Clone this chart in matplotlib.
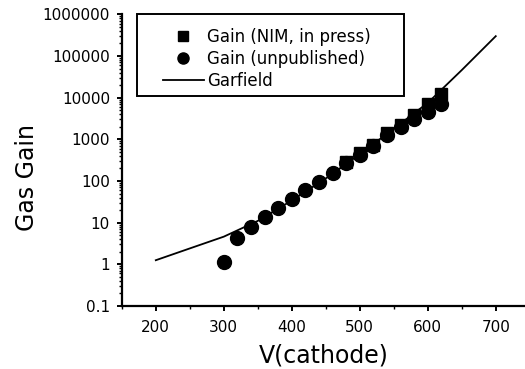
import numpy as np
import matplotlib
matplotlib.use('Agg')
import matplotlib.pyplot as plt
from matplotlib.patches import Rectangle
from matplotlib.ticker import LogLocator, FixedLocator, NullFormatter

# gas gain vs cathode voltage
v_nim    = [480, 500, 520, 540, 560, 580, 600, 620]
gain_nim = [290, 460, 740, 1400, 2200, 3900, 7200, 12500]

v_unpub    = [300, 320, 340, 360, 380, 400, 420, 440, 460, 480, 500, 520, 540, 560, 580, 600, 620]
gain_unpub = [1.15, 4.2, 8.0, 13.8, 23, 36, 60, 96, 157, 270, 420, 700, 1250, 2000, 3100, 4600, 7200]

v_garf    = [200, 250, 300, 350, 400, 450, 500, 550, 600, 650, 700]
gain_garf = [1.25, 2.4, 4.6, 11, 34, 115, 440, 1800, 7500, 46000, 300000]

y_ticks  = [0.1, 1, 10, 100, 1000, 10000, 100000, 1000000]
y_labels = ['0.1', '1', '10', '100', '1000', '10000', '100000', '1000000']
x_ticks  = [200, 300, 400, 500, 600, 700]

plt.rcParams['font.family'] = ['DejaVu Sans']

fig = plt.figure(figsize=(5.25, 3.69), dpi=100)
ax = fig.add_axes([0.232, 0.171, 0.768, 0.79])

garf, = ax.plot(v_garf, gain_garf, color='black', lw=1.3, label='Garfield', zorder=2)
nim, = ax.plot(v_nim, gain_nim, 's', color='black', ms=8.5, label='Gain (NIM, in press)', zorder=3)
unp, = ax.plot(v_unpub, gain_unpub, 'o', color='black', ms=10, label='Gain (unpublished)', zorder=3)

ax.set_yscale('log')
ax.set_ylim(0.1, 1000000)
ax.set_xlim(150, 743)

ax.yaxis.set_major_locator(FixedLocator(y_ticks))
ax.set_yticklabels(y_labels)
ax.yaxis.set_minor_locator(LogLocator(base=10, subs=np.arange(2, 10), numticks=20))
ax.yaxis.set_minor_formatter(NullFormatter())
ax.set_xticks(x_ticks)
ax.set_xticks(np.arange(150, 750, 50), minor=True)

for s in ['top', 'right']:
    ax.spines[s].set_visible(False)
for s in ['left', 'bottom']:
    ax.spines[s].set_linewidth(1.6)

ax.tick_params(which='major', direction='out', length=3.5, width=1.4, labelsize=11)
ax.tick_params(axis='y', which='major', pad=5)
ax.tick_params(axis='x', which='major', pad=7)
ax.tick_params(which='minor', direction='out', length=2, width=1)

ax.set_xlabel('V(cathode)', fontsize=17, labelpad=6)
ax.set_ylabel('Gas Gain', fontsize=17)
ax.yaxis.set_label_coords(-0.205, 0.442)

leg = ax.legend([nim, unp, garf], [nim.get_label(), unp.get_label(), garf.get_label()],
                loc='upper left', bbox_to_anchor=(0.064, 1.006), fontsize=12,
                frameon=False, handlelength=2.5, handletextpad=0.15, borderpad=0.4,
                labelspacing=0.25, markerscale=0.8)
ax.add_patch(Rectangle((0.038, 0.72), 0.662, 0.28, transform=ax.transAxes,
                       fill=False, edgecolor='black', lw=1.4, clip_on=False, zorder=4))

fig.savefig('out.png', dpi=100)
